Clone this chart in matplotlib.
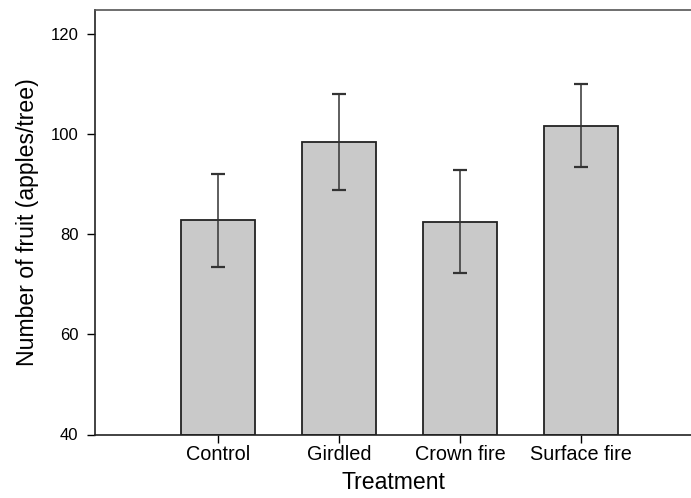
import matplotlib.pyplot as plt
import numpy as np

plt.rcParams["font.family"] = ["Liberation Sans", "DejaVu Sans"]

treatments = ["Control", "Girdled", "Crown fire", "Surface fire"]
fruit_mean = [82.8, 98.4, 82.5, 101.7]
fruit_err = [9.3, 9.6, 10.3, 8.3]
y_ticks = [40, 60, 80, 100, 120]

fig = plt.figure(figsize=(6.91, 4.98), dpi=100)
ax = fig.add_axes([95 / 691, 1 - 434.5 / 498, (691 - 95) / 691, (434.5 - 10) / 498])

x = np.arange(len(treatments))
ax.bar(x, np.array(fruit_mean) - 40, bottom=40, width=0.61,
       color="#c9c9c9", edgecolor="#222222", linewidth=1.3)
ax.errorbar(x, fruit_mean, yerr=fruit_err, fmt="none", ecolor="#333333",
            elinewidth=1.1, capsize=4.7, capthick=1.6)

ax.set_xlim(-1.02, 3.91)
ax.set_ylim(40, 124.9)
ax.set_xticks(x)
ax.set_xticklabels(treatments, fontsize=14.3)
ax.set_yticks(y_ticks)
ax.tick_params(axis="y", labelsize=12, length=6, width=1, direction="out", pad=6)
ax.tick_params(axis="x", length=6, width=1, direction="out", pad=1.5)

ax.spines["right"].set_visible(False)
for s in ["left", "bottom"]:
    ax.spines[s].set_linewidth(1.2)
    ax.spines[s].set_color("#222222")
ax.spines["top"].set_linewidth(1.2)
ax.spines["top"].set_color("#555555")

ax.set_xlabel("Treatment", fontsize=16.6, labelpad=5)
ax.set_ylabel("Number of fruit (apples/tree)", fontsize=16.6, labelpad=8)

fig.savefig("out.png", dpi=100)
